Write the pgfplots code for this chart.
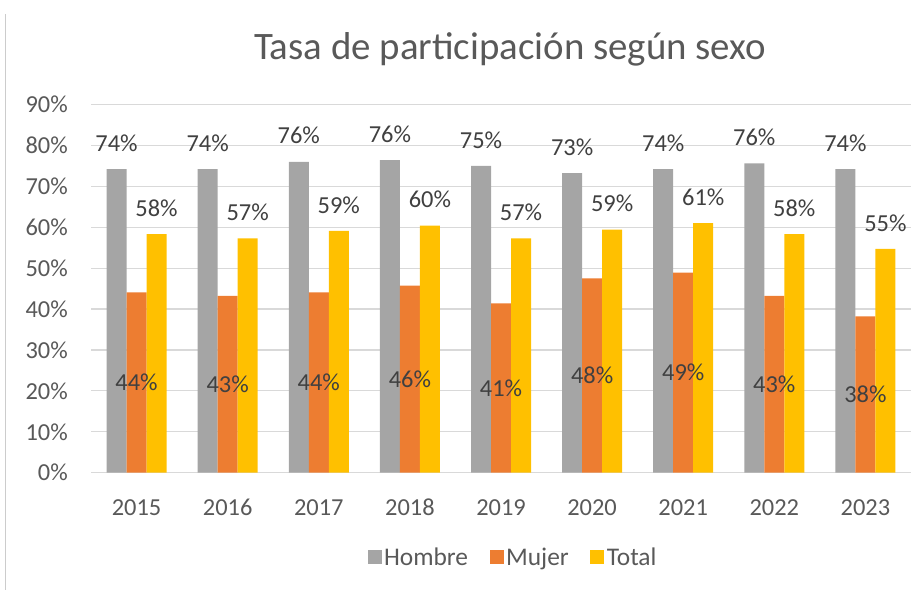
\documentclass[border=0pt]{standalone}
\usepackage{pgfplots}
\pgfplotsset{compat=1.18}
\usepackage{fontspec}
\setmainfont{Carlito}
\definecolor{cgray}{HTML}{A5A5A5}
\definecolor{corange}{HTML}{ED7D31}
\definecolor{cyellow}{HTML}{FFC000}
\definecolor{ctext}{HTML}{595959}
\definecolor{clabel}{HTML}{404040}
\definecolor{cgrid}{HTML}{D9D9D9}
\pgfplotsset{sqlegend/.style={legend image code/.code={\fill[##1] (0bp,-7bp) rectangle (14bp,7bp);}}}
\begin{document}
\begin{tikzpicture}
\useasboundingbox (0,0) rectangle (911bp,590bp);
\draw[color=black!20, line width=1.2bp] (5.5bp,0) -- (5.5bp,576bp);
\node[anchor=base, text=ctext, font=\fontsize{39}{46}\selectfont] at (510bp,530bp) {Tasa de participación según sexo};
\begin{axis}[
  at={(91bp,117.3bp)}, anchor=south west,
  scale only axis, width=820bp, height=368.2bp,
  ybar=0pt, bar width=20bp,
  xmin=-0.5, xmax=8.5, ymin=0, ymax=90,
  xtick={0,...,8},
  xticklabels={2015,2016,2017,2018,2019,2020,2021,2022,2023},
  ytick={0,10,...,90},
  yticklabels={0\%,10\%,20\%,30\%,40\%,50\%,60\%,70\%,80\%,90\%},
  axis line style={draw=none},
  tick style={draw=none},
  ymajorgrids, grid style={draw=cgrid, line width=1.2bp},
  /pgf/number format/assume math mode=true,
  every tick label/.append style={inner sep=0pt, text=ctext, font=\fontsize{24.5}{28}\selectfont},
  yticklabel style={anchor=east, xshift=-23bp},
  xticklabel style={anchor=base, yshift=-39bp},
  nodes near coords={\pgfmathprintnumber[fixed,precision=0]{\pgfplotspointmeta}\%},
  nodes near coords style={font=\fontsize{24.5}{28}\selectfont, text=clabel, inner sep=0pt, anchor=center},
  legend style={at={(0.515,-0.229)}, anchor=center, draw=none, fill=none,
    legend columns=-1, font=\fontsize{25.5}{30}\selectfont, text=ctext,
    /tikz/every even column/.append style={column sep=19bp},
    nodes={inner sep=2.5bp}},
  legend image code/.code={\fill[#1] (0bp,-7bp) rectangle (14bp,7bp);},
]
\addplot[fill=cgray, draw=none, sqlegend, every node near coord/.append style={yshift=26bp}]
  coordinates {(0,74.2)(1,74.2)(2,76.0)(3,76.4)(4,75.0)(5,73.2)(6,74.2)(7,75.6)(8,74.2)};
\addplot[fill=corange, draw=none, sqlegend, visualization depends on={rawy \as \rawy},
  every node near coord/.append style={yshift={-2.0456*\rawy*1bp}}]
  coordinates {(0,44.1)(1,43.2)(2,44.1)(3,45.7)(4,41.4)(5,47.5)(6,48.9)(7,43.2)(8,38.2)};
\addplot[fill=cyellow, draw=none, sqlegend, every node near coord/.append style={yshift=26bp}]
  coordinates {(0,58.3)(1,57.3)(2,59.1)(3,60.4)(4,57.3)(5,59.4)(6,61.0)(7,58.3)(8,54.7)};
\legend{Hombre,Mujer,Total}
\end{axis}
\end{tikzpicture}
\end{document}
